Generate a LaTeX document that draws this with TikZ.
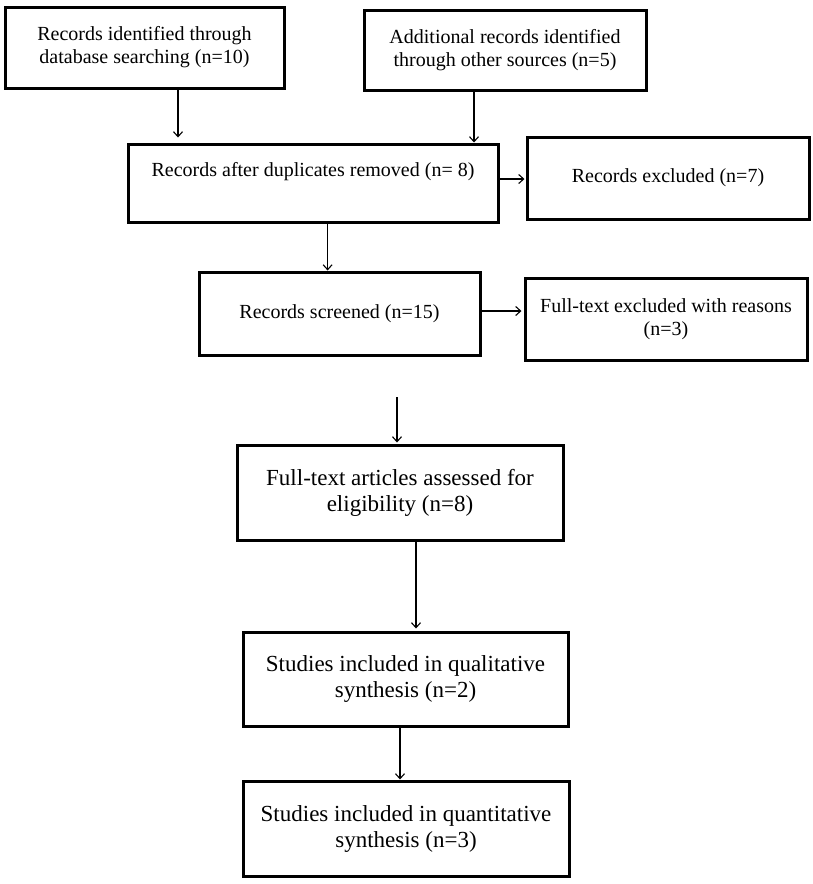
\documentclass[tikz,border=0pt]{standalone}
\usepackage{fontspec}
\setmainfont{Liberation Serif}
\usetikzlibrary{arrows.meta}
\begin{document}
\begin{tikzpicture}[x=1pt,y=-1pt,
  box/.style={draw, line width=3pt, rectangle, inner sep=0pt, align=center},
  small/.style={font=\fontsize{20}{23}\selectfont},
  big/.style={font=\fontsize{23}{26}\selectfont},
  txt/.style={inner sep=0pt, align=center},
  arr/.style={-{Straight Barb[length=5pt,width=9pt]}, line width=1.1pt}]
\useasboundingbox (0,0) rectangle (812,884);
\node[box, small, minimum width=279pt, minimum height=81pt] (a) at (144.5,47.5) {Records identified through\\database searching (n=10)};
\node[box, small, minimum width=282pt, minimum height=80pt] (b) at (505,50) {Additional records identified\\through other sources (n=5)};
\node[box, minimum width=370pt, minimum height=78pt] (c) at (313,183) {};
\node[txt, small] (ct) at (313,172) {Records after duplicates removed (n= 8)};
\node[box, small, minimum width=282pt, minimum height=82pt] (d) at (668,178) {Records excluded (n=7)};
\node[box, small, minimum width=281pt, minimum height=83pt] (e) at (339.5,313.5) {Records screened (n=15)};
\node[box, small, minimum width=282pt, minimum height=82pt] (f) at (666,319) {Full-text excluded with reasons\\(n=3)};
\node[box, big, minimum width=326pt, minimum height=95pt] (g) at (400,492.5) {Full-text articles assessed for\\eligibility (n=8)};
\node[box, big, minimum width=325pt, minimum height=94pt] (h) at (405.5,679) {Studies included in qualitative\\synthesis (n=2)};
\node[box, big, minimum width=326pt, minimum height=95pt] (i) at (406,828.5) {Studies included in quantitative\\synthesis (n=3)};
\coordinate (free) at (397,397);

\draw[arr, shorten >=5pt] (a.south -| 178,0) -- (c.north -| 178,0);
\draw[arr] (b.south -| 474,0) -- (c.north -| 474,0);
\draw[arr, shorten >=1pt] (c.east |- 0,179) -- (d.west |- 0,179);
\draw[arr] (c.south -| 327.6,0) -- (e.north -| 327.6,0);
\draw[arr, shorten >=2pt] (e.east |- 0,311) -- (f.west |- 0,311);
\draw[arr, shorten >=1pt] (free) -- (g.north -| free);
\draw[arr, shorten >=2pt] (g.south -| 416,0) -- (h.north -| 416,0);
\draw[arr] (h.south -| 400,0) -- (i.north -| 400,0);
\end{tikzpicture}
\end{document}
